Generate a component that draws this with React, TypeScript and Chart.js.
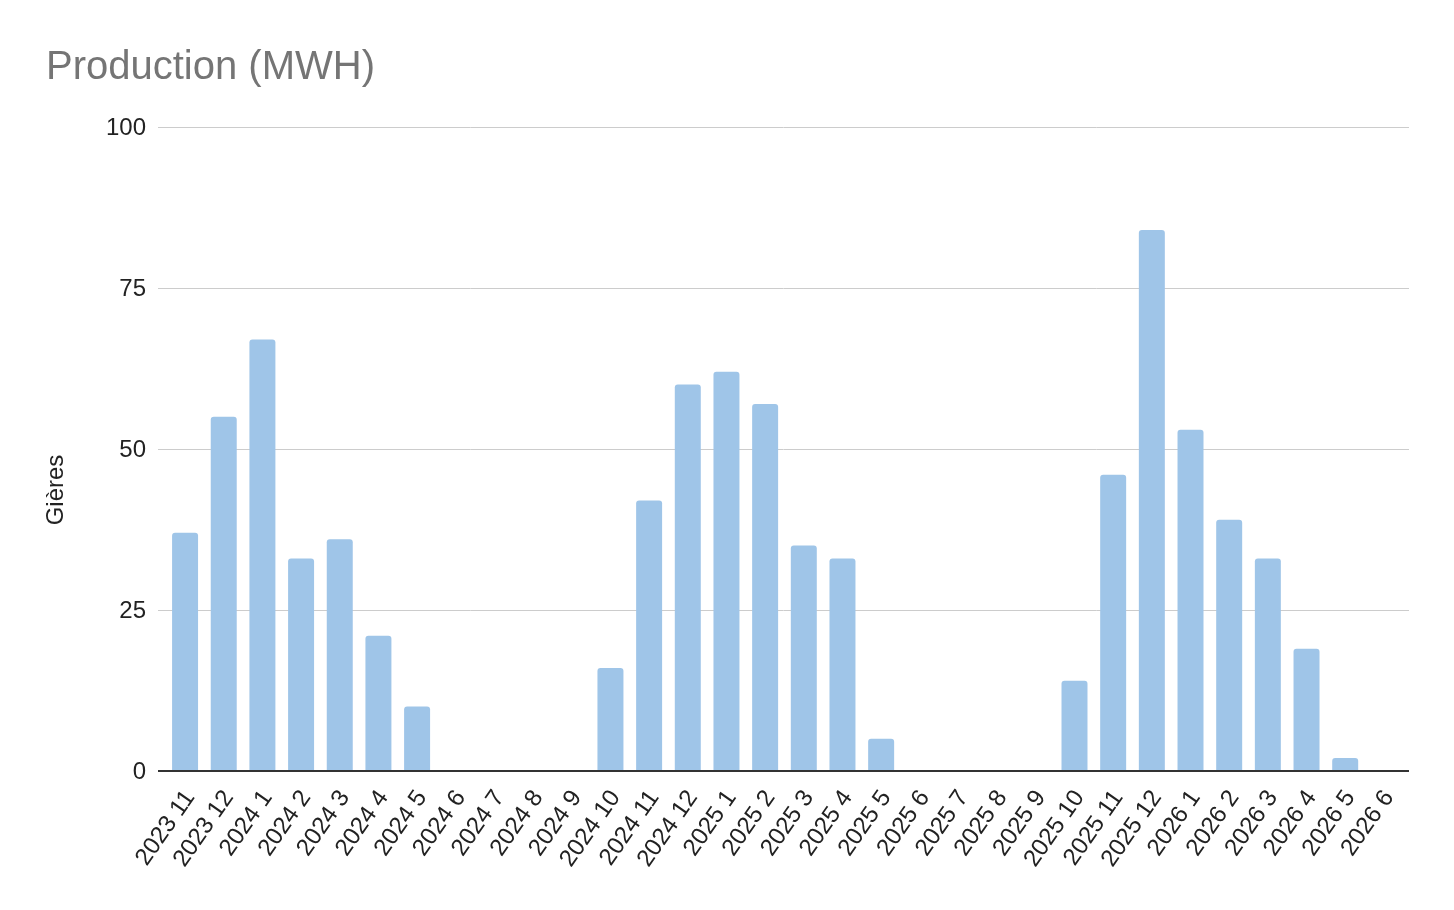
import { useEffect, useRef } from 'react'
import { Chart, registerables } from 'chart.js'

Chart.register(...registerables)

const months: string[] = [
  '2023 11', '2023 12',
  '2024 1', '2024 2', '2024 3', '2024 4', '2024 5', '2024 6',
  '2024 7', '2024 8', '2024 9', '2024 10', '2024 11', '2024 12',
  '2025 1', '2025 2', '2025 3', '2025 4', '2025 5', '2025 6',
  '2025 7', '2025 8', '2025 9', '2025 10', '2025 11', '2025 12',
  '2026 1', '2026 2', '2026 3', '2026 4', '2026 5', '2026 6',
]

const production: number[] = [
  37, 55,
  67, 33, 36, 21, 10, 0,
  0, 0, 0, 16, 42, 60,
  62, 57, 35, 33, 5, 0,
  0, 0, 0, 14, 46, 84,
  53, 39, 33, 19, 2, 0,
]

const yTicks: number[] = [0, 25, 50, 75, 100]

const FONT = '"Liberation Sans", Arial, sans-serif'

// y axis title drawn by hand: the reference centres it lower than the plot area
const yTitlePlugin = {
  id: 'yTitle',
  afterDraw: (chart: Chart) => {
    const c = chart.ctx
    c.save()
    c.translate(56, 490)
    c.rotate(-Math.PI / 2)
    c.font = `24px ${FONT}`
    c.fillStyle = '#222222'
    c.textAlign = 'center'
    c.textBaseline = 'middle'
    c.fillText('Gières', 0, 0)
    c.restore()
  },
}

const App = () => {
  const chartRef = useRef<HTMLCanvasElement>(null)
  const chartInstance = useRef<Chart | null>(null)

  useEffect(() => {
    if (!chartRef.current) return
    const ctx = chartRef.current.getContext('2d')
    if (!ctx) return

    if (chartInstance.current) {
      chartInstance.current.destroy()
    }

    chartInstance.current = new Chart(ctx, {
      type: 'bar',
      data: {
        datasets: [
          {
            label: 'Gières',
            data: production.map((v, i) => ({ x: i, y: v })),
            backgroundColor: '#9fc5e8',
            borderRadius: { topLeft: 3, topRight: 3, bottomLeft: 0, bottomRight: 0 },
            borderSkipped: false,
            categoryPercentage: 1,
            barPercentage: 0.672,
          },
        ],
      },
      plugins: [yTitlePlugin],
      options: {
        responsive: true,
        maintainAspectRatio: false,
        animation: false,
        layout: {
          padding: { left: 46, right: 45, top: 0, bottom: 0 },
        },
        plugins: {
          legend: { display: false },
          tooltip: { enabled: false },
          title: {
            display: true,
            text: 'Production (MWH)',
            align: 'start',
            color: '#757575',
            font: { family: FONT, size: 40, weight: 'normal', lineHeight: 1.2 },
            padding: { top: 44, bottom: 35 },
          },
        },
        scales: {
          x: {
            type: 'linear',
            offset: false,
            min: -0.7,
            max: 31.65,
            afterBuildTicks: (scale) => {
              scale.ticks = months.map((_, i) => ({ value: i }))
            },
            grid: { display: false },
            border: { display: false },
            ticks: {
              color: '#222222',
              font: { family: FONT, size: 24 },
              minRotation: 55,
              maxRotation: 55,
              autoSkip: false,
              padding: 6,
              labelOffset: 5,
              callback: (value) => months[Number(value)] ?? '',
            },
            afterFit: (scale) => {
              scale.height = 139
            },
          },
          y: {
            min: 0,
            max: 100,
            afterBuildTicks: (scale) => {
              scale.ticks = yTicks.map((v) => ({ value: v }))
            },
            grid: {
              drawTicks: false,
              color: (c) => (c.tick && c.tick.value === 0 ? '#333333' : '#cccccc'),
              lineWidth: (c) => (c.tick && c.tick.value === 0 ? 2 : 1),
            },
            border: { display: false },
            ticks: {
              color: '#222222',
              font: { family: FONT, size: 24 },
              padding: 12,
              labelOffset: 1,
            },
            afterFit: (scale) => {
              scale.width = 112
            },
          },
        },
      },
    })

    return () => {
      if (chartInstance.current) {
        chartInstance.current.destroy()
        chartInstance.current = null
      }
    }
  }, [])

  return (
    <div style={{ position: 'fixed', left: 0, top: 0, width: 1454, height: 910, background: '#ffffff' }}>
      <canvas ref={chartRef}></canvas>
    </div>
  )
}

export default App
